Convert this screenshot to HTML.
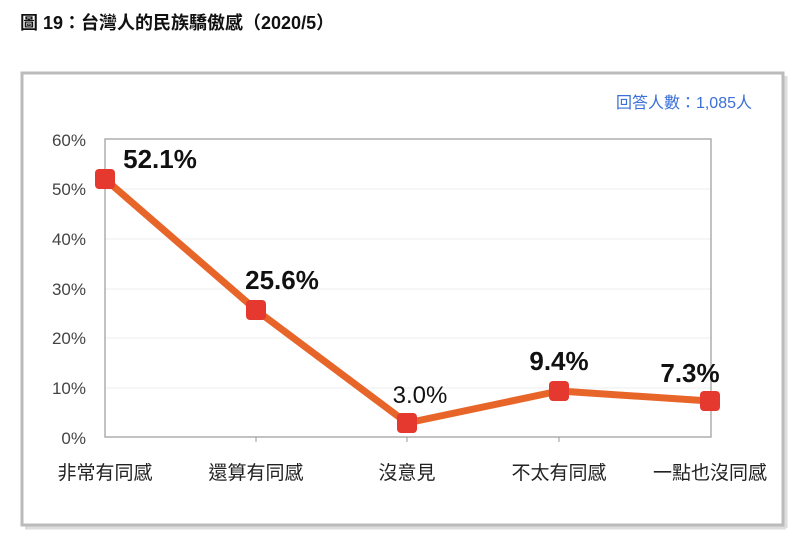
<!DOCTYPE html>
<html><head><meta charset="utf-8"><style>
body{margin:0;width:800px;height:540px;background:#fff;overflow:hidden}
</style></head><body>
<svg width="800" height="540" xmlns="http://www.w3.org/2000/svg" style="font-family:'Liberation Sans','Noto Sans CJK TC',sans-serif">
<text x="20" y="29" font-size="18" font-weight="bold" fill="#111">圖 19：台灣人的民族驕傲感（2020/5）</text>
<rect x="22" y="73" width="761" height="452" fill="#fff" stroke="#bbb" stroke-width="3"/>
<line x1="25" y1="528" x2="786" y2="528" stroke="#ddd" stroke-width="3"/>
<line x1="786" y1="76" x2="786" y2="528" stroke="#ddd" stroke-width="3"/>
<text x="752" y="108" font-size="16" fill="#3a6fd8" text-anchor="end">回答人數：1,085人</text>
<g stroke="#eee" stroke-width="1">
<line x1="105" y1="189" x2="711" y2="189"/><line x1="105" y1="239" x2="711" y2="239"/>
<line x1="105" y1="289" x2="711" y2="289"/><line x1="105" y1="338" x2="711" y2="338"/>
<line x1="105" y1="388" x2="711" y2="388"/>
</g>
<rect x="105" y="139" width="606" height="298" fill="none" stroke="#999" stroke-width="1.2"/>
<g stroke="#999"><line x1="256" y1="437" x2="256" y2="442"/><line x1="407" y1="437" x2="407" y2="442"/><line x1="559" y1="437" x2="559" y2="442"/></g>
<g font-size="17" fill="#444" text-anchor="end">
<text x="86" y="146">60%</text><text x="86" y="195">50%</text><text x="86" y="245">40%</text>
<text x="86" y="295">30%</text><text x="86" y="344">20%</text><text x="86" y="394">10%</text><text x="86" y="444">0%</text>
</g>
<polyline points="105,179 256,310 407,423 559,391 710,401" fill="none" stroke="#e8652a" stroke-width="7" stroke-linejoin="round"/>
<g fill="#e5382e">
<rect x="95" y="169" width="20" height="20" rx="4"/><rect x="246" y="300" width="20" height="20" rx="4"/>
<rect x="397" y="413" width="20" height="20" rx="4"/><rect x="549" y="381" width="20" height="20" rx="4"/>
<rect x="700" y="391" width="20" height="20" rx="4"/>
</g>
<g font-size="26" font-weight="bold" fill="#111" text-anchor="middle">
<text x="160" y="168">52.1%</text><text x="282" y="289">25.6%</text>
<text x="559" y="370">9.4%</text><text x="690" y="382">7.3%</text>
</g>
<text x="420" y="403" font-size="24" fill="#111" text-anchor="middle">3.0%</text>
<g font-size="19" fill="#222" text-anchor="middle">
<text x="105" y="479">非常有同感</text><text x="256" y="479">還算有同感</text><text x="407" y="479">沒意見</text>
<text x="559" y="479">不太有同感</text><text x="710" y="479">一點也沒同感</text>
</g>
</svg>
</body></html>
